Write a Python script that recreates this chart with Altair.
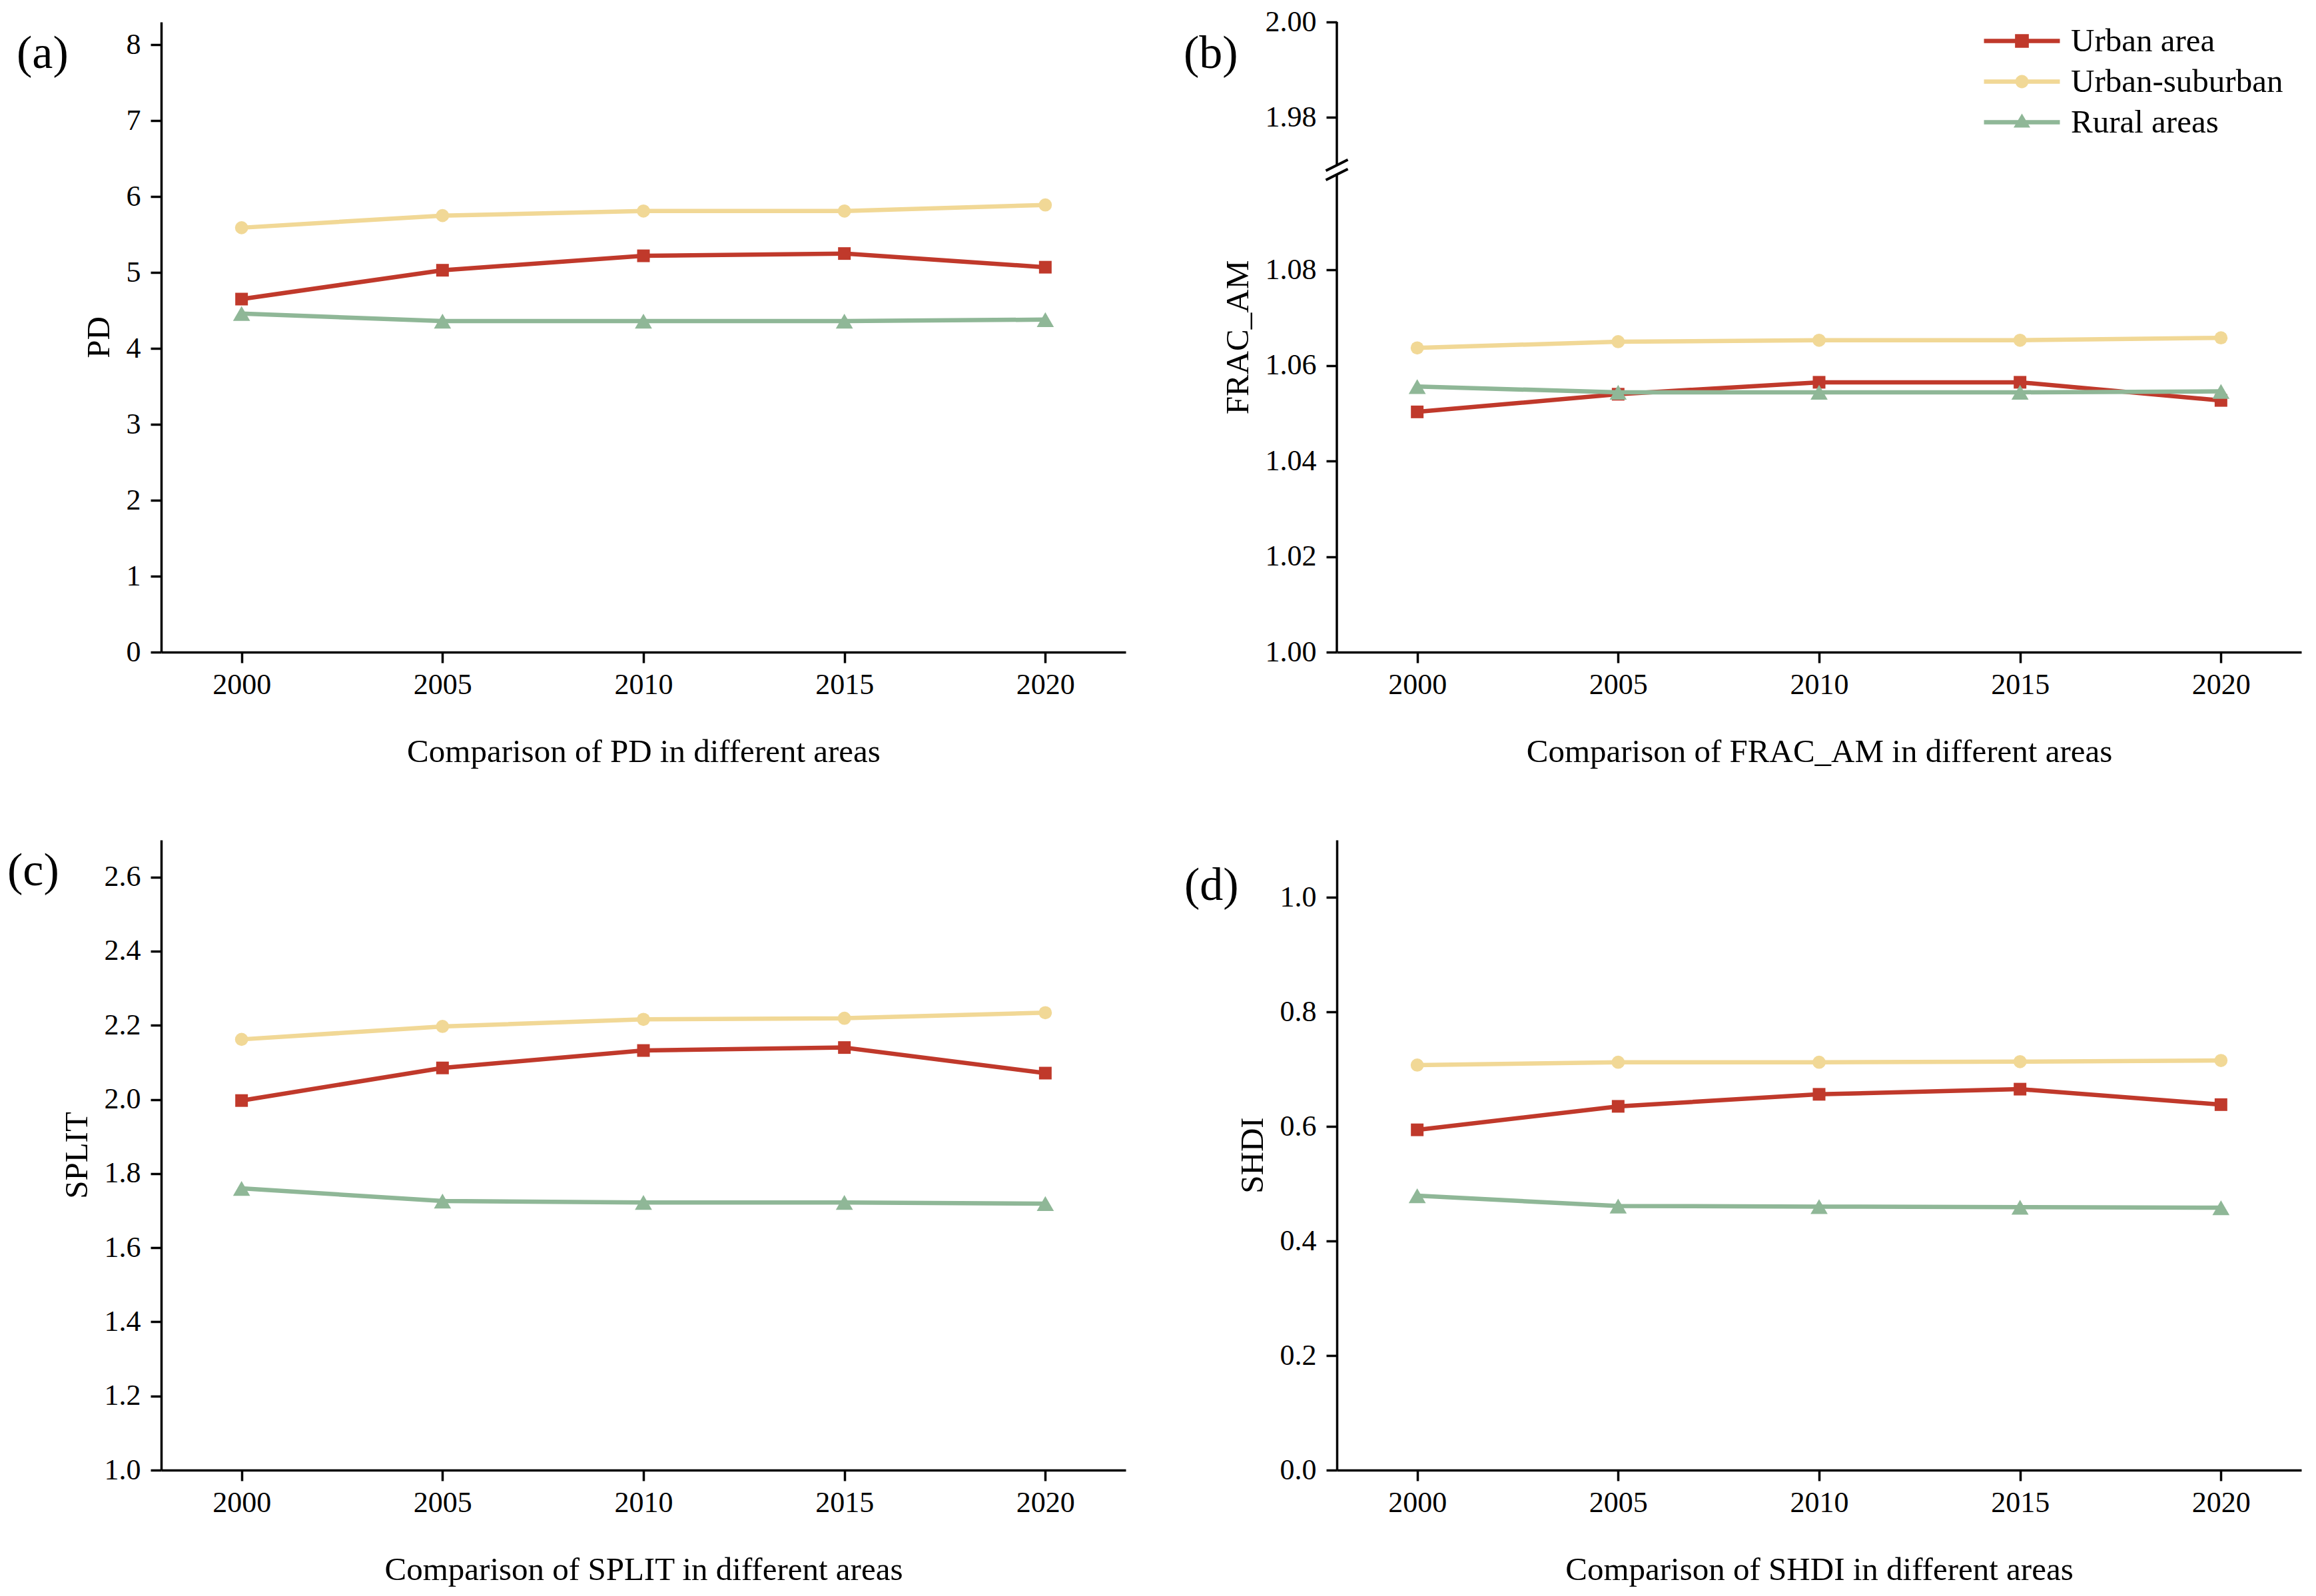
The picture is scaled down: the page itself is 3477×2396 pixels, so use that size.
import altair as alt
import pandas as pd

# ---------------- data ----------------
years = [2000, 2005, 2010, 2015, 2020]
series = ["Urban area", "Urban-suburban", "Rural areas"]
colors = ["#C0392B", "#F1D896", "#8FB797"]
markers = ["square", "circle", "triangle-up"]
marker_sizes = [360, 390, 660]

pd_urban = [4.65, 5.03, 5.22, 5.25, 5.07]
pd_suburban = [5.59, 5.75, 5.81, 5.81, 5.89]
pd_rural = [4.46, 4.36, 4.36, 4.36, 4.38]

frac_urban = [1.0503, 1.0540, 1.0565, 1.0565, 1.0527]
frac_suburban = [1.0637, 1.0650, 1.0653, 1.0653, 1.0658]
frac_rural = [1.0556, 1.0544, 1.0544, 1.0544, 1.0546]

split_urban = [1.997, 2.085, 2.132, 2.140, 2.071]
split_suburban = [2.162, 2.197, 2.216, 2.219, 2.234]
split_rural = [1.760, 1.726, 1.722, 1.722, 1.719]

shdi_urban = [0.594, 0.635, 0.656, 0.665, 0.638]
shdi_suburban = [0.707, 0.712, 0.712, 0.713, 0.715]
shdi_rural = [0.479, 0.461, 0.460, 0.459, 0.458]

pd_ticks = [0, 1, 2, 3, 4, 5, 6, 7, 8]
frac_ticks = [1.00, 1.02, 1.04, 1.06, 1.08, 1.98, 2.00]
split_ticks = [1.0, 1.2, 1.4, 1.6, 1.8, 2.0, 2.2, 2.4, 2.6]
shdi_ticks = [0.0, 0.2, 0.4, 0.6, 0.8, 1.0]

frac_break_low = [1.00, 1.10]    # lower axis segment
frac_break_high = [1.97, 2.00]   # upper axis segment

# ---------------- style ----------------
W, H = 1448, 946
FONT = "Liberation Serif"


def make_df(u, s, r):
    rows = []
    for name, vals in zip(series, [u, s, r]):
        for yr, v in zip(years, vals):
            rows.append({"year": yr, "series": name, "value": v})
    return pd.DataFrame(rows)


color_scale = alt.Scale(domain=series, range=colors)

# legend symbols: line segment + marker (custom paths)
LINE = "M -6.33 -0.35 L 6.33 -0.35 L 6.33 0.35 L -6.33 0.35 Z"
SQ = LINE + " M -1.15 -1.15 L 1.15 -1.15 L 1.15 1.15 L -1.15 1.15 Z"
CI = LINE + " M -1.1 0 A 1.1 1.1 0 1 1 1.1 0 A 1.1 1.1 0 1 1 -1.1 0 Z"
TR = LINE + " M 0 -1.45 L 1.39 0.9 L -1.39 0.9 Z"
legend_shape_scale = alt.Scale(domain=series, range=[SQ, CI, TR])

legend_b = alt.Legend(
    title=None, orient="none", legendX=1004, legendY=4, padding=0,
    labelFont=FONT, labelFontSize=49, labelColor="black", labelLimit=0,
    labelOffset=49, rowPadding=11, symbolSize=324, symbolStrokeWidth=0,
    symbolOpacity=1,
)


def panel(df, ytitle, xtitle, yscale, yvalues, yfmt, label, ldx, ldy,
          with_legend=False, ydomain=True, extra=None):
    x = alt.X("year:Q", scale=alt.Scale(domain=[1998, 2022], nice=False, zero=False),
              axis=alt.Axis(values=years, format="d", title=xtitle))
    yaxis = alt.Axis(values=yvalues, format=yfmt, title=ytitle, domain=ydomain)
    y = alt.Y("value:Q", scale=yscale, axis=yaxis)
    base = alt.Chart(df).encode(x=x, y=y)
    layers = []
    for name, col, mk, sz in zip(series, colors, markers, marker_sizes):
        sub = base.transform_filter(alt.datum.series == name)
        layers.append(sub.mark_line(strokeWidth=6.5, color=col))
        layers.append(sub.mark_point(shape=mk, size=sz, filled=True, color=col, opacity=1))
    if with_legend:
        layers.append(base.mark_point(filled=True, opacity=0).encode(
            color=alt.Color("series:N", scale=color_scale, legend=legend_b),
            shape=alt.Shape("series:N", scale=legend_shape_scale, legend=legend_b)))
    if extra:
        layers += extra(yscale, yaxis)
    lab = alt.Chart(pd.DataFrame({"t": [label]})).mark_text(
        align="left", baseline="middle", fontSize=70, font=FONT, color="black"
    ).encode(text="t:N", x=alt.value(ldx), y=alt.value(ldy))
    layers.append(lab)
    return alt.layer(*layers).properties(width=W, height=H)


def frac_extra(yscale, yaxis):
    segs = pd.DataFrame({"lo": [frac_break_low[0], frac_break_high[0]],
                         "hi": [frac_break_low[1], frac_break_high[1]]})
    rule = alt.Chart(segs).mark_rule(color="black", strokeWidth=3.5).encode(
        x=alt.value(0),
        y=alt.Y("lo:Q", scale=yscale, axis=yaxis),
        y2="hi:Q")
    brk = pd.DataFrame({"b": [frac_break_low[1], frac_break_high[0]]})
    marks = alt.Chart(brk).mark_point(
        shape="M -1 0.5 L 1 -0.5", size=1089, filled=False, stroke="black",
        strokeWidth=4, opacity=1
    ).encode(x=alt.value(0), y=alt.Y("b:Q", scale=yscale, axis=yaxis))
    return [rule, marks]


pa = panel(make_df(pd_urban, pd_suburban, pd_rural), "PD",
           "Comparison of PD in different areas",
           alt.Scale(domain=[0, 8.3], nice=False, zero=False),
           pd_ticks, "d", "(a)", -217, 48)

pb = panel(make_df(frac_urban, frac_suburban, frac_rural), "FRAC_AM",
           "Comparison of FRAC_AM in different areas",
           alt.Scale(domain=[1.00, 1.10, 1.97, 2.00], range=[H, H - 717, 215, 0],
                     nice=False, zero=False),
           frac_ticks, ".2f", "(b)", -230, 48, with_legend=True, ydomain=False,
           extra=frac_extra)

pc = panel(make_df(split_urban, split_suburban, split_rural), "SPLIT",
           "Comparison of SPLIT in different areas",
           alt.Scale(domain=[1.0, 2.7], nice=False, zero=False),
           split_ticks, ".1f", "(c)", -231, 47)

pdd = panel(make_df(shdi_urban, shdi_suburban, shdi_rural), "SHDI",
            "Comparison of SHDI in different areas",
            alt.Scale(domain=[0, 1.1], nice=False, zero=False),
            shdi_ticks, ".1f", "(d)", -229, 69)

chart = alt.concat(
    pa, pb, pc, pdd, columns=2, spacing={"row": 282, "column": 317}, bounds="flush"
).resolve_scale(
    color="independent", shape="independent"
).resolve_legend(
    color="independent", shape="independent"
).properties(
    padding={"left": 3, "top": 3, "right": 5, "bottom": 5}
).configure_axis(
    domainColor="black", domainWidth=3.5, tickColor="black", tickWidth=3.5,
    tickSize=16, labelFont=FONT, labelFontSize=44, labelColor="black",
    titleFont=FONT, titleFontSize=49, titleFontWeight="normal", titleColor="black",
    grid=False
).configure_axisX(
    labelPadding=11, titlePadding=54
).configure_axisY(
    labelPadding=15, titlePadding=16
).configure_view(stroke=None)

chart.save("out.html", embed_options={"renderer": "svg", "actions": False})
